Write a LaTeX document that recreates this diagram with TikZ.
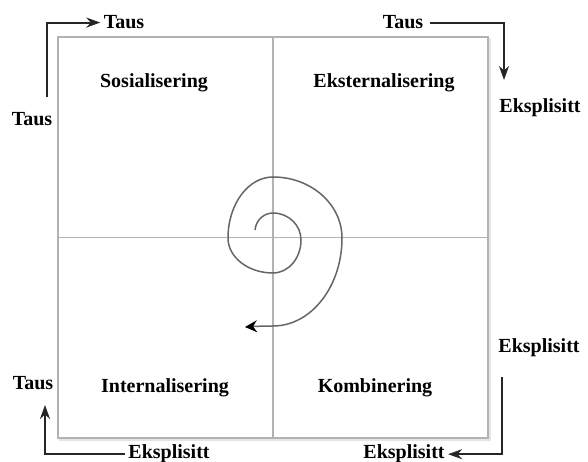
\documentclass[tikz,border=0pt]{standalone}
\usepackage{fontspec}
\setmainfont{Liberation Serif}
\usetikzlibrary{arrows.meta}
\tikzstyle{field}=[font=\fontsize{20}{24}\selectfont\bfseries,anchor=base]
\tikzstyle{flow}=[-{Stealth[length=14pt,width=10pt]},line width=2pt,black!85]
\tikzstyle{frame}=[draw=gray!60,line width=1.6pt,inner sep=0pt,outer sep=0pt]

\begin{document}
\begin{tikzpicture}[x=1pt,y=1pt]
  \useasboundingbox (0,0) rectangle (588,462);
  % the four fields
  \node[frame,draw=gray!20,minimum width=430pt,minimum height=401pt] (shadow) at (275,222.5) {};
  \node[frame,fill=white,minimum width=430pt,minimum height=401pt] (box) at (273,224.5) {};
  \draw[frame] (box.north) -- (box.south);
  \draw[frame] (box.west) -- (box.east);

  \node [field] (sos)    at (154,374) {Sosialisering};
  \node [field] (eks)    at (384,374) {Eksternalisering};
  \node [field] (intern) at (165,69)  {Internalisering};
  \node [field] (komb)   at (375,69)  {Kombinering};

  % labels round the frame
  \node [field] (tausTL) at (124,433) {Taus};
  \node [field] (tausL)  at (32,336)  {Taus};
  \node [field] (tausTR) at (403,433) {Taus};
  \node [field] (ekspR)  at (540,349) {Eksplisitt};
  \node [field] (ekspRB) at (539,109) {Eksplisitt};
  \node [field] (tausBL) at (33,72)   {Taus};
  \node [field] (ekspBL) at (169,3)   {Eksplisitt};
  \node [field] (ekspBR) at (404,3)   {Eksplisitt};

  \coordinate (tl) at (47,365);
  \coordinate (tr) at (504,382);
  \coordinate (bl) at (45,57);
  \coordinate (br) at (502,85);

  \draw[flow] (tl) |- (tausTL.west);
  \draw[flow] ([xshift=3pt]tausTR.east) -| (tr);
  \draw[flow] (br) |- (ekspBR.east);
  \draw[flow] (ekspBL.west) -| (bl);

  % spiral
  \draw[gray!80!black,line width=1.5pt,-{Stealth[length=12pt,width=12pt,black]}] (255,232) .. controls (256,242) and (264,249) .. (273,249)
      arc[start angle=90,end angle=0,x radius=28,y radius=27]
      arc[start angle=0,end angle=-90,x radius=28,y radius=33]
      arc[start angle=-90,end angle=-180,x radius=45,y radius=35]
      arc[start angle=180,end angle=90,x radius=45,y radius=61]
      arc[start angle=90,end angle=0,x radius=69,y radius=61]
      arc[start angle=0,end angle=-90,x radius=69,y radius=88]
      .. controls (262,136) and (254,135.5) .. (245,135);
\end{tikzpicture}
\end{document}
